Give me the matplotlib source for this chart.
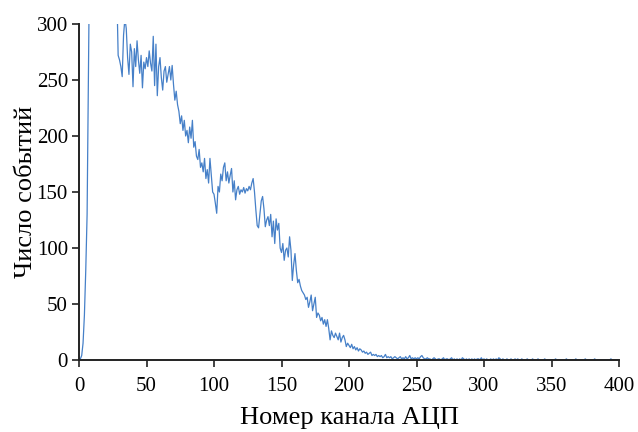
import numpy as np
import matplotlib
matplotlib.use("Agg")
import matplotlib.pyplot as plt

# counts per ADC channel (0..399)
counts = [
    0, 1, 4, 15, 40, 80, 130, 260, 380, 520,
    700, 850, 950, 1000, 980, 940, 880, 820, 760, 700,
    640, 590, 540, 500, 460, 420, 390, 360, 330, 272,
    268, 262, 253, 290, 305, 296, 270, 255, 282, 275,
    244, 278, 262, 285, 268, 256, 272, 243, 266, 260,
    270, 262, 276, 265, 258, 289, 245, 282, 236, 262,
    270, 252, 241, 258, 262, 248, 255, 262, 250, 263,
    246, 232, 240, 228, 222, 211, 218, 205, 214, 200,
    205, 194, 208, 198, 214, 190, 195, 182, 179, 188,
    172, 176, 168, 180, 162, 170, 158, 180, 165, 150,
    148, 140, 131, 155, 150, 166, 160, 172, 176, 160,
    168, 158, 165, 171, 150, 160, 143, 152, 155, 148,
    152, 150, 154, 149, 153, 151, 155, 152, 158, 162,
    150, 134, 120, 118, 130, 142, 146, 135, 119, 125,
    128, 120, 130, 110, 124, 104, 126, 116, 122, 100,
    96, 104, 89, 98, 100, 92, 110, 98, 71, 85,
    95, 80, 69, 72, 66, 62, 60, 58, 54, 56,
    47, 52, 58, 44, 50, 56, 38, 42, 40, 35,
    38, 32, 36, 30, 36, 28, 18, 26, 22, 20,
    24, 21, 18, 24, 16, 20, 22, 18, 12, 15,
    13, 11, 14, 10, 12, 9, 11, 8, 10, 9,
    7, 8, 6, 7, 5, 6, 7, 4, 5, 4,
    5, 3, 4, 3, 4, 2, 3, 5, 2, 3,
    2, 3, 1, 2, 3, 2, 1, 2, 3, 1,
    2, 1, 3, 1, 2, 4, 1, 2, 1, 2,
    1, 2, 1, 3, 4, 2, 1, 1, 2, 1,
    1, 0, 1, 2, 1, 0, 1, 1, 0, 1,
    2, 0, 1, 1, 0, 1, 2, 0, 1, 0,
    1, 0, 1, 0, 2, 1, 0, 1, 0, 1,
    0, 1, 0, 1, 0, 1, 1, 0, 2, 0,
    1, 0, 1, 0, 0, 1, 0, 1, 0, 1,
    0, 2, 1, 0, 1, 0, 0, 1, 0, 0,
    1, 0, 0, 1, 0, 1, 0, 0, 1, 0,
    0, 0, 1, 0, 0, 0, 1, 0, 0, 0,
    1, 0, 0, 0, 0, 1, 0, 0, 0, 0,
    0, 0, 0, 1, 0, 0, 0, 0, 0, 0,
    0, 1, 0, 0, 0, 0, 0, 0, 1, 0,
    0, 0, 0, 0, 0, 1, 0, 0, 0, 0,
    0, 0, 1, 0, 0, 0, 0, 0, 0, 0,
    0, 0, 0, 0, 1, 0, 0, 0, 0, 0,
]
channels = np.arange(len(counts))

x_ticks = [0, 50, 100, 150, 200, 250, 300, 350, 400]
y_ticks = [0, 50, 100, 150, 200, 250, 300]

plt.rcParams['font.family'] = ['Liberation Serif', 'DejaVu Serif']

fig = plt.figure(figsize=(6.38, 4.32), dpi=100)
ax = fig.add_axes([79/638, 1-360/432, 540/638, 336/432])

ax.plot(channels, counts, color='#4680c8', lw=0.9, clip_on=True)

ax.set_xlim(0, 400)
ax.set_ylim(0, 300)
ax.set_xticks(x_ticks)
ax.set_yticks(y_ticks)

for side in ['top', 'right']:
    ax.spines[side].set_visible(False)
for side in ['left', 'bottom']:
    ax.spines[side].set_linewidth(1.4)
    ax.spines[side].set_color('#222222')

ax.tick_params(direction='out', length=5, width=1.2, colors='#222222',
               labelsize=15, labelcolor='black')
ax.tick_params(axis='x', pad=7)
ax.tick_params(axis='y', pad=3)

ax.set_xlabel('Номер канала АЦП', fontsize=19, labelpad=8)
ax.set_ylabel('Число событий', fontsize=19, labelpad=0)

fig.savefig('out.png', dpi=100)
